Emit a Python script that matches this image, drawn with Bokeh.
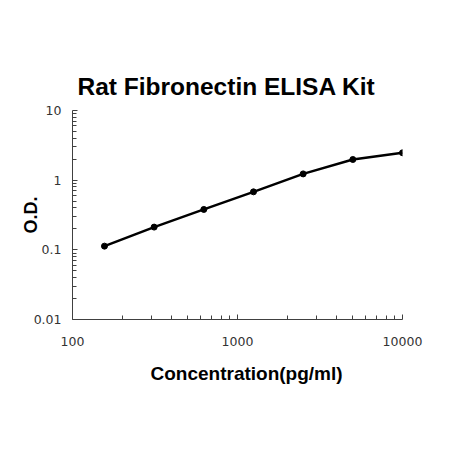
from bokeh.plotting import figure
from bokeh.models import FixedTicker, Title
from bokeh.embed import file_html
from bokeh.resources import INLINE

# data
conc = [156.25, 312.5, 625, 1250, 2500, 5000, 10000]
od = [0.113, 0.212, 0.38, 0.68, 1.23, 1.98, 2.47]

x_major = [100, 1000, 10000]
x_labels = ["100", "1000", "10000"]
y_major = [0.01, 0.1, 1, 10]
y_labels = ["0.01", "0.1", "1", "10"]

x_minor = [m * d for d in (100, 1000) for m in range(2, 10)]
y_minor = [m * d for d in (0.01, 0.1, 1) for m in range(2, 10)]

p = figure(width=435, height=434, x_axis_type="log", y_axis_type="log",
           x_range=(100, 10000), y_range=(0.01, 10),
           output_backend="svg", toolbar_location=None,
           min_border_left=72, min_border_right=33,
           min_border_top=110, min_border_bottom=115)
p.title = None
t = Title(text="Rat Fibronectin ELISA Kit", align="left",
          text_font="Liberation Sans", text_font_size="24.5px",
          text_font_style="bold", text_color="black", standoff=21, offset=5)
p.add_layout(t, "above")

p.outline_line_color = None
p.xgrid.grid_line_color = None
p.ygrid.grid_line_color = None

p.xaxis.ticker = FixedTicker(ticks=x_major, minor_ticks=x_minor)
p.yaxis.ticker = FixedTicker(ticks=y_major, minor_ticks=y_minor)
p.xaxis.major_label_overrides = {v: s for v, s in zip(x_major, x_labels)}
p.yaxis.major_label_overrides = {v: s for v, s in zip(y_major, y_labels)}

for ax in (p.xaxis, p.yaxis):
    ax.axis_line_color = "#404040"
    ax.major_tick_line_color = "#404040"
    ax.minor_tick_line_color = "#404040"
    ax.major_tick_in = 5
    ax.major_tick_out = 0
    ax.minor_tick_in = 4
    ax.minor_tick_out = 0
    ax.major_label_text_font = "DejaVu Sans"
    ax.major_label_text_font_size = "12.5px"
    ax.major_label_text_color = "#333333"
    ax.axis_label_text_font = "Liberation Sans"
    ax.axis_label_text_font_style = "bold"
    ax.axis_label_text_color = "black"

p.yaxis.axis_label_text_font_size = "18px"
p.xaxis.major_label_standoff = 17
p.yaxis.major_label_standoff = 11
p.yaxis.axis_label = "O.D."
p.yaxis.axis_label_standoff = -10

xt = Title(text="Concentration(pg/ml)", align="left",
           text_font="Liberation Sans", text_font_size="19px",
           text_font_style="bold", text_color="black", standoff=24, offset=78)
p.add_layout(xt, "below")

p.line(conc, od, line_color="black", line_width=2.5)
p.scatter(conc, od, size=6, fill_color="black", line_color="black")

open("out.html", "w").write(file_html(p, INLINE))
